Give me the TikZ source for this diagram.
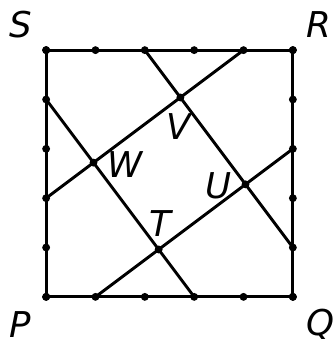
\documentclass[tikz,border=0pt]{standalone}
\usepackage{fontspec}
\setmainfont{DejaVu Sans}
\begin{document}
\begin{tikzpicture}[x=1cm,y=1cm,
  seg/.style={line width=1.7pt,line cap=round,line join=round},
  pt/.style={circle,fill=black,inner sep=0pt,minimum size=0.16cm},
  lab/.style={font=\fontsize{20.5}{24}\selectfont\itshape,inner sep=0pt}]
\useasboundingbox (-0.935,-0.854) rectangle (5.833,6.016);
% corners
\coordinate (P) at (0,0);
\coordinate (Q) at (5,0);
\coordinate (R) at (5,5);
\coordinate (S) at (0,5);
% side points
\coordinate (a) at (2,5);
\coordinate (b) at (5,1);
\coordinate (c) at (4,5);
\coordinate (d) at (0,2);
\coordinate (e) at (0,4);
\coordinate (f) at (3,0);
\coordinate (g) at (1,0);
\coordinate (h) at (5,3);
% intersections
\coordinate (V) at (intersection of a--b and c--d);
\coordinate (W) at (intersection of c--d and e--f);
\coordinate (T) at (intersection of e--f and g--h);
\coordinate (U) at (intersection of g--h and a--b);
% square and lines
\draw[seg] (P) -- (Q) -- (R) -- (S) -- cycle;
\draw[seg] (a) -- (b);
\draw[seg] (c) -- (d);
\draw[seg] (e) -- (f);
\draw[seg] (g) -- (h);
% dots on boundary
\foreach \i in {0,...,5} {
  \node[pt] (bt\i) at (\i,0) {};
  \node[pt] (tp\i) at (\i,5) {};
  \node[pt] (lf\i) at (0,\i) {};
  \node[pt] (rt\i) at (5,\i) {};
}
\node[pt] (dV) at (V) {};
\node[pt] (dW) at (W) {};
\node[pt] (dT) at (T) {};
\node[pt] (dU) at (U) {};
% labels
\node[lab] (lS) at (-0.508,5.528) {S};
\node[lab] (lR) at (5.528,5.528) {R};
\node[lab] (lP) at (-0.528,-0.569) {P};
\node[lab] (lQ) at (5.569,-0.569) {Q};
\node[lab] (lV) at (2.683,3.455) {V};
\node[lab] (lW) at (1.606,2.683) {W};
\node[lab] (lU) at (3.496,2.256) {U};
\node[lab] (lT) at (2.317,1.484) {T};
\end{tikzpicture}
\end{document}
